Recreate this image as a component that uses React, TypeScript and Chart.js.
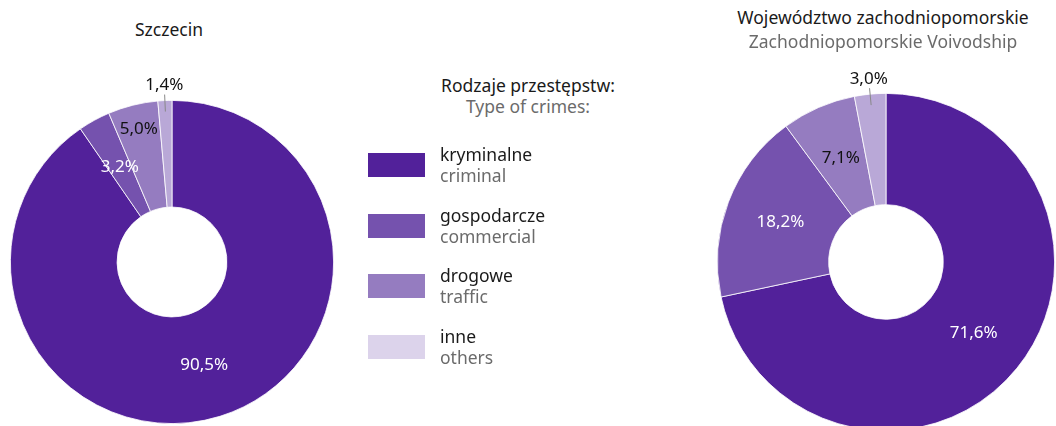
import React, { useEffect, useRef } from "react";
import { Chart, registerables } from "chart.js";
Chart.register(...registerables);

const categoriesPl = ["kryminalne", "gospodarcze", "drogowe", "inne"];
const categoriesEn = ["criminal", "commercial", "traffic", "others"];
const szczecinValues = [90.5, 3.2, 5.0, 1.4];
const voivodshipValues = [71.6, 18.2, 7.1, 3.0];
const sliceColors = ["#52219A", "#7552AE", "#957CC0", "#B9A8D7"];
const legendColors = ["#52219A", "#7552AE", "#957CC0", "#DCD3EB"];

const FONT = "'Noto Sans', sans-serif";

const fmt = (v: number) => v.toFixed(1).replace(".", ",") + "%";

const labelPlugin = {
  id: "sliceLabels",
  afterDatasetsDraw(chart: any, _args: any, opts: any) {
    const ctx = chart.ctx;
    const meta = chart.getDatasetMeta(0);
    const data = chart.data.datasets[0].data as number[];
    ctx.save();
    ctx.font = `17px ${FONT}`;
    ctx.textAlign = "center";
    ctx.textBaseline = "middle";
    meta.data.forEach((arc: any, i: number) => {
      const p = arc.getProps(["x", "y", "startAngle", "endAngle", "innerRadius", "outerRadius"], true);
      const mid = (p.startAngle + p.endAngle) / 2;
      const cos = Math.cos(mid), sin = Math.sin(mid);
      const place = opts.placement[i];
      ctx.fillStyle = opts.colors[i];
      if (place === "outside") {
        const r0 = p.outerRadius - 11, r1 = p.outerRadius + 6;
        ctx.strokeStyle = "#888";
        ctx.lineWidth = 1;
        ctx.beginPath();
        ctx.moveTo(p.x + cos * r0, p.y + sin * r0);
        ctx.lineTo(p.x + cos * r1, p.y + sin * r1);
        ctx.stroke();
        const rt = p.outerRadius + 15;
        ctx.fillText(fmt(data[i]), p.x + cos * rt, p.y + sin * rt);
      } else {
        const f = place as number;
        const r = p.innerRadius + (p.outerRadius - p.innerRadius) * f;
        ctx.fillText(fmt(data[i]), p.x + cos * r, p.y + sin * r);
      }
    });
    ctx.restore();
  },
};

function Donut(props: {
  values: number[];
  left: number;
  top: number;
  size: number;
  pad: number;
  colors: string[];
  placement: (number | string)[];
}) {
  const ref = useRef<HTMLCanvasElement>(null);
  useEffect(() => {
    const chart = new Chart(ref.current!, {
      type: "doughnut",
      data: {
        labels: categoriesEn,
        datasets: [
          {
            data: props.values,
            backgroundColor: sliceColors,
            borderColor: "#ffffff",
            borderWidth: 0.8,
          },
        ],
      },
      options: {
        animation: false,
        responsive: false,
        cutout: "34%",
        layout: { padding: props.pad },
        plugins: {
          legend: { display: false },
          tooltip: { enabled: false },
          sliceLabels: { colors: props.colors, placement: props.placement },
        } as any,
      },
      plugins: [labelPlugin],
    });
    return () => chart.destroy();
  }, []);
  return (
    <canvas
      ref={ref}
      width={props.size}
      height={props.size}
      style={{ position: "absolute", left: props.left, top: props.top, width: props.size, height: props.size }}
    />
  );
}

export default function App() {
  const text = (extra: React.CSSProperties): React.CSSProperties => ({
    position: "absolute",
    fontFamily: FONT,
    fontSize: 17.5,
    lineHeight: "21px",
    whiteSpace: "nowrap",
    ...extra,
  });
  return (
    <div
      style={{
        position: "fixed",
        left: 0,
        top: 0,
        width: 1056,
        height: 426,
        overflow: "hidden",
        background: "#fff",
      }}
    >
      <Donut
        values={szczecinValues}
        left={172 - 210}
        top={262 - 210}
        size={420}
        pad={48}
        colors={["#fff", "#fff", "#111", "#111"]}
        placement={[0.5, 0.5, 0.77, "outside"]}
      />
      <Donut
        values={voivodshipValues}
        left={886 - 220}
        top={262 - 220}
        size={440}
        pad={51}
        colors={["#fff", "#fff", "#111", "#111"]}
        placement={[0.5, 0.5, 0.5, "outside"]}
      />
      <div style={text({ left: 69, width: 200, top: 19, textAlign: "center", color: "#1a1a1a" })}>Szczecin</div>
      <div style={text({ left: 733, width: 300, top: 7, textAlign: "center", color: "#1a1a1a" })}>
        Województwo zachodniopomorskie
      </div>
      <div style={text({ left: 733, width: 300, top: 31, textAlign: "center", color: "#6b6b6b" })}>
        Zachodniopomorskie Voivodship
      </div>
      <div style={text({ left: 428, width: 200, top: 75, textAlign: "center", color: "#1a1a1a" })}>
        Rodzaje przestępstw:
      </div>
      <div style={text({ left: 428, width: 200, top: 96, textAlign: "center", color: "#6b6b6b" })}>
        Type of crimes:
      </div>
      {categoriesPl.map((c, i) => (
        <React.Fragment key={c}>
          <div
            style={{
              position: "absolute",
              left: 368,
              top: 153 + i * 60.5,
              width: 57,
              height: 24,
              background: legendColors[i],
            }}
          />
          <div style={text({ left: 440, top: 144 + i * 60.5, color: "#1a1a1a" })}>{c}</div>
          <div style={text({ left: 440, top: 165 + i * 60.5, color: "#6b6b6b" })}>{categoriesEn[i]}</div>
        </React.Fragment>
      ))}
    </div>
  );
}
